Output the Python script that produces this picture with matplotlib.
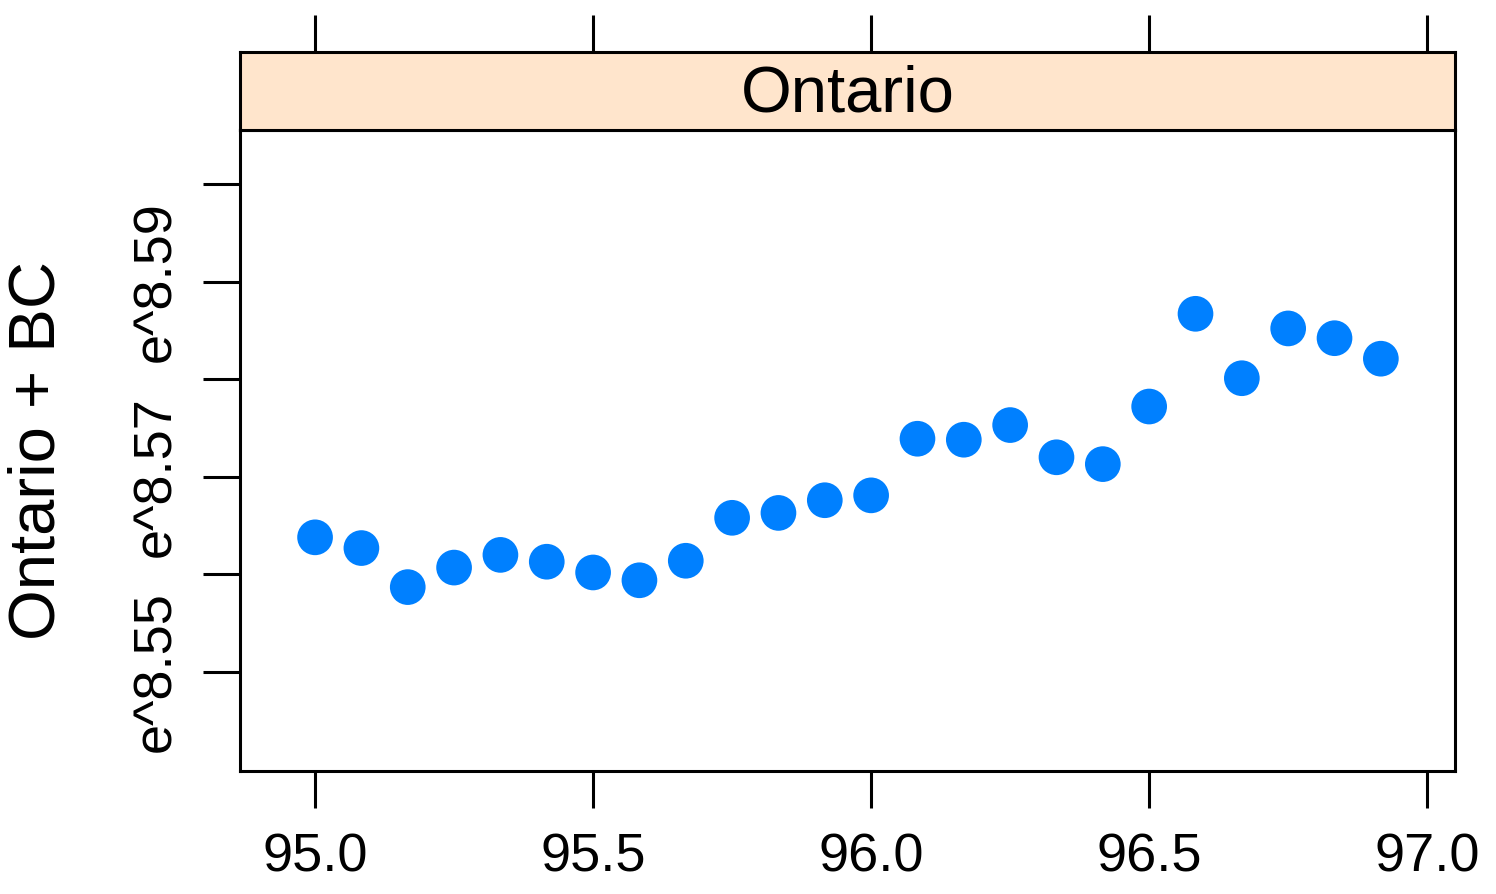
import numpy as np
import matplotlib
matplotlib.use("Agg")
import matplotlib.pyplot as plt

plt.rcParams['font.family'] = ['Liberation Sans', 'DejaVu Sans']

# monthly time, Ontario (log scale values)
time = 95 + np.arange(24) / 12
log_y = [8.5638, 8.5627, 8.5587, 8.5607, 8.5620, 8.5613, 8.5602, 8.5594,
         8.5614, 8.5658, 8.5663, 8.5676, 8.5681, 8.5739, 8.5738, 8.5753,
         8.5720, 8.5713, 8.5772, 8.5867, 8.5801, 8.5852, 8.5842, 8.5821]
strip_label = "Ontario"
x_ticks = [95.0, 95.5, 96.0, 96.5, 97.0]
y_ticks = [8.55, 8.56, 8.57, 8.58, 8.59, 8.60]
y_labels = ["e^8.55", "", "e^8.57", "", "e^8.59", ""]

W, H = 1496, 894
fig = plt.figure(figsize=(W / 100, H / 100), dpi=100)
lw = 2.2
tl = 26.5

ax = fig.add_axes([240 / W, (H - 771) / H, (1455 - 240) / W, (771 - 130) / H])
ax.scatter(time, log_y, s=660, color="#0080FF", edgecolors="none", zorder=3)
ax.set_xlim(94.865, 97.050)
ax.set_ylim(8.53986, 8.60553)
ax.set_xticks(x_ticks)
ax.set_xticklabels([f"{v:.1f}" for v in x_ticks])
ax.set_yticks(y_ticks)
ax.set_yticklabels(y_labels, rotation=90, va="center")
ax.tick_params(axis="both", labelsize=39, width=lw, length=tl)
ax.tick_params(axis="x", pad=18)
ax.tick_params(axis="y", pad=16)
for s in ax.spines.values():
    s.set_linewidth(lw)

strip = fig.add_axes([240 / W, (H - 130) / H, (1455 - 240) / W, 78 / H])
strip.set_facecolor("#FFE5CC")
strip.set_xlim(ax.get_xlim())
strip.set_yticks([])
strip.xaxis.tick_top()
strip.set_xticks(x_ticks)
strip.set_xticklabels([])
strip.tick_params(axis="x", width=lw, length=tl)
for s in strip.spines.values():
    s.set_linewidth(lw)
strip.text(0.5, 0.45, strip_label, transform=strip.transAxes,
           ha="center", va="center", fontsize=47)

fig.text(38 / W, 1 - 451 / H, "Ontario + BC", rotation=90,
         ha="center", va="center", fontsize=47)

fig.savefig("out.png", dpi=100)
